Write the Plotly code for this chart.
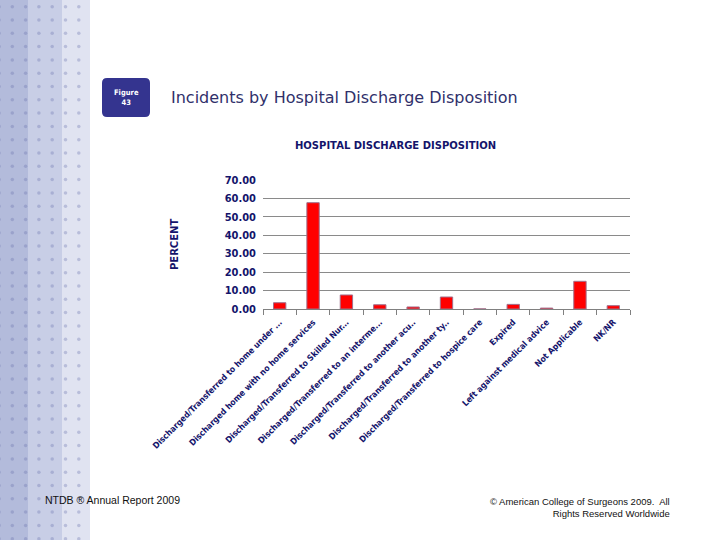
import numpy as np
import plotly.graph_objects as go

# ── DATA ──────────────────────────────────────────────────────
categories = [
    "Discharged/Transferred to home under ...",
    "Discharged home with no home services",
    "Discharged/Transferred to Skilled Nur...",
    "Discharged/Transferred to an interme...",
    "Discharged/Transferred to another acu..",
    "Discharged/Transferred to another ty..",
    "Discharged/Transferred to hospice care",
    "Expired",
    "Left against medical advice",
    "Not Applicable",
    "NK/NR",
]
percent = [3.4, 57.6, 7.6, 2.3, 1.1, 6.5, 0.05, 2.5, 0.5, 15.0, 1.8]
y_ticks = [0, 10, 20, 30, 40, 50, 60, 70]

NAVY = "#14146b"
W, H = 720, 540


def px_x(x):
    return x / W


def px_y(y):
    return 1 - y / H


fig = go.Figure()

# main bars
fig.add_trace(go.Bar(
    x=categories, y=percent,
    marker=dict(color="#ff0000", line=dict(color="#a0708c", width=1)),
    width=0.37,
    hovertemplate="%{x}: %{y:.2f}<extra></extra>",
))

# ── decorative dotted strip on the left (pixel coords on x2/y2) ──
dot_x, dot_y = np.meshgrid(np.arange(-1, 90, 13.3), np.arange(6.7, 540, 13.3))
fig.add_trace(go.Scatter(
    x=dot_x.ravel(), y=dot_y.ravel(),
    xaxis="x2", yaxis="y2",
    mode="markers",
    marker=dict(color="rgba(110,118,175,0.35)", size=3.5, line_width=0),
    hoverinfo="skip", showlegend=False,
))

shapes = [
    dict(type="rect", xref="x2", yref="y2", x0=0, x1=28, y0=0, y1=540,
         fillcolor="#b3bbdb", line_width=0, layer="below"),
    dict(type="rect", xref="x2", yref="y2", x0=28, x1=62, y0=0, y1=540,
         fillcolor="#c8cee6", line_width=0, layer="below"),
    dict(type="rect", xref="x2", yref="y2", x0=62, x1=90, y0=0, y1=540,
         fillcolor="#e0e3f1", line_width=0, layer="below"),
    # "Figure 43" rounded box
    dict(type="path", xref="x2", yref="y2",
         path="M 107 78 L 145 78 Q 150 78 150 83 L 150 112 Q 150 117 145 117 "
              "L 107 117 Q 102 117 102 112 L 102 83 Q 102 78 107 78 Z",
         fillcolor="#34348f", line_width=0),
]

annotations = [
    dict(text="<b>Figure<br>43</b>", x=126, y=97.5, xref="x2", yref="y2",
         showarrow=False, font=dict(size=7.5, color="white", family="DejaVu Sans Condensed"),
         align="center"),
    dict(text="Incidents by Hospital Discharge Disposition", x=169, y=97,
         xref="x2", yref="y2", xanchor="left", showarrow=False,
         font=dict(size=16, color="#30306a", family="DejaVu Sans")),
    dict(text="<b>HOSPITAL DISCHARGE DISPOSITION</b>", x=395, y=145,
         xref="x2", yref="y2", showarrow=False,
         font=dict(size=10, color=NAVY, family="DejaVu Sans")),
    dict(text="<b>PERCENT</b>", x=174, y=245, xref="x2", yref="y2",
         showarrow=False, textangle=-90,
         font=dict(size=10, color=NAVY, family="DejaVu Sans")),
    dict(text="NTDB ® Annual Report 2009", x=43, y=500, xref="x2", yref="y2",
         xanchor="left", showarrow=False,
         font=dict(size=10.5, color="#111111", family="Liberation Sans")),
    dict(text="© American College of Surgeons 2009.  All<br>Rights Reserved Worldwide",
         x=672, y=507, xref="x2", yref="y2", xanchor="right", align="right",
         showarrow=False,
         font=dict(size=9.5, color="#111111", family="Liberation Sans")),
]

fig.update_layout(
    width=W, height=H,
    margin=dict(l=0, r=0, t=0, b=0, autoexpand=False),
    paper_bgcolor="white",
    plot_bgcolor="rgba(0,0,0,0)",
    showlegend=False,
    shapes=shapes,
    annotations=annotations,
    xaxis=dict(
        domain=[px_x(263), px_x(630)],
        type="category",
        automargin=False,
        tickangle=-45,
        tickson="boundaries",
        ticks="outside", ticklen=5, tickcolor="#808080",
        showline=True, linecolor="#808080", linewidth=1,
        showgrid=False,
        ticktext=[f"<b>{c}</b>" for c in categories],
        tickvals=categories,
        ticklabelstandoff=4,
        tickfont=dict(size=8.5, color=NAVY, family="DejaVu Sans Condensed"),
        fixedrange=True,
    ),
    yaxis=dict(
        domain=[px_y(309), px_y(179.8)],
        range=[0, 70],
        automargin=False,
        tickvals=y_ticks,
        ticktext=[f"<b>{v:.2f}</b>" for v in y_ticks],
        showgrid=True, gridcolor="#8a8a8a", gridwidth=1,
        zeroline=False, showline=False,
        ticklabelstandoff=6,
        tickfont=dict(size=11, color=NAVY, family="DejaVu Sans Condensed"),
        fixedrange=True,
    ),
    xaxis2=dict(domain=[0, 1], range=[0, W], visible=False, anchor="y2",
                automargin=False, fixedrange=True),
    yaxis2=dict(domain=[0, 1], range=[H, 0], visible=False, anchor="x2",
                automargin=False, fixedrange=True),
)

# page body has a default 8px margin; drop it so the chart sits at (0, 0)
fig.write_html("out.html", config={"displayModeBar": False},
               post_script="document.body.style.margin='0';")
